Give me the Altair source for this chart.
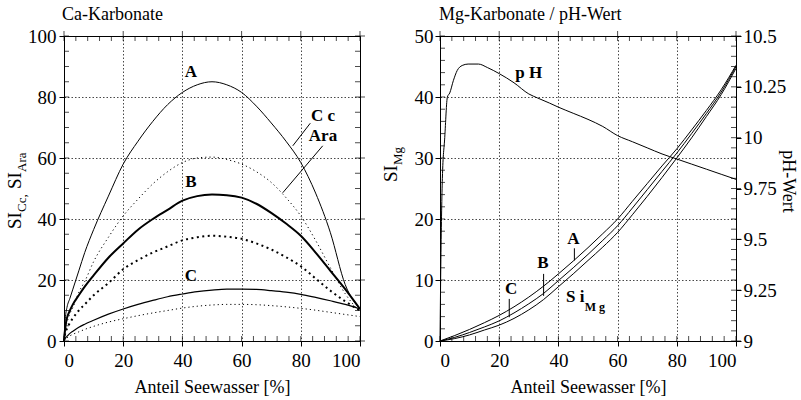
import altair as alt
import pandas as pd

FONT = "Liberation Serif"
W, H = 296, 305

# --- Ca-Karbonate: Saettigungsindizes Calcit (Cc) und Aragonit (Ara), Mischreihen A, B, C
ca_x = [0, 0.5, 1, 2, 3, 5, 7, 10, 15, 20, 25, 30, 35, 40, 45, 50, 55, 60, 65, 70, 75, 80, 85, 90, 95, 100]
a_cc = [0, 8, 11, 14, 17, 23, 29, 36.5, 47.5, 58, 65.5, 72, 77.5, 81.5, 84, 85, 84, 81.5, 77, 71.5, 65.5, 58.5, 48.5, 35.5, 18.5, 10.5]
a_ara = [0, 4, 6, 9, 11, 16, 19.5, 26, 34, 41, 46.5, 51.5, 55.5, 58.5, 60, 60.3, 59.5, 58, 55.5, 52, 47, 41, 33, 24, 15.5, 9.5]
b_cc = [0, 5, 7.5, 10, 12, 15, 17.8, 21.5, 27.3, 32, 36.5, 40, 43, 46, 47.5, 48, 47.8, 47, 45, 42, 38.5, 34.5, 29, 23, 17, 10.5]
b_ara = [0, 3, 4, 6, 7.5, 10, 12, 15, 19, 23.5, 26.5, 29, 31, 33, 34, 34.5, 34.2, 33.5, 32, 30, 27.5, 24.5, 20.5, 16.5, 13, 10]
c_cc = [0, 1, 1.5, 2.5, 3.2, 4.5, 5.5, 6.8, 8.8, 10.5, 12, 13.3, 14.5, 15.4, 16.2, 16.7, 17, 17, 16.9, 16.5, 16, 15.3, 14.3, 13.2, 12, 10.5]
c_ara = [0, 0.6, 1, 1.7, 2.2, 3, 3.8, 4.8, 6.2, 7.3, 8.3, 9.2, 10, 10.8, 11.4, 11.8, 12, 12, 11.9, 11.6, 11.2, 10.7, 10.1, 9.4, 8.7, 8]

ca_labels = ["A", "B", "C", "C c", "Ara"]
ca_label_x = [42.9, 42.9, 42.9, 87.5, 87.5]
ca_label_y = [88.2, 52, 21.3, 73.8, 67.2]
# Hinweislinien von "Cc" und "Ara" zur Kurve A
ca_ptr_x = [83.2, 87.4]
ca_ptr_y = [71.4, 64]
ca_ptr_x2 = [77.3, 73.9]
ca_ptr_y2 = [64, 48.6]

# --- Mg-Karbonate und pH-Wert
mg_x = [0, 5, 10, 15, 20, 25, 30, 35, 40, 45, 50, 55, 60, 65, 70, 75, 80, 85, 90, 95, 100]
mg_a = [0, 0.9, 1.9, 3, 4.2, 5.6, 7.2, 9, 11, 13.1, 15.3, 17.6, 20, 22.9, 25.8, 28.7, 31.5, 34.6, 37.8, 41.2, 45.2]
mg_b = [0, 0.6, 1.4, 2.3, 3.3, 4.6, 6.1, 7.8, 9.9, 12, 14.2, 16.5, 18.9, 21.8, 24.8, 27.8, 30.8, 34, 37.3, 40.8, 45]
mg_c = [0, 0.4, 1, 1.8, 2.6, 3.7, 5.1, 6.8, 8.9, 11, 13.2, 15.4, 17.8, 20.7, 23.7, 26.8, 30, 33.3, 36.8, 40.4, 44.7]

ph_x = [0, 0.3, 0.8, 1.6, 2.5, 3.3, 4.5, 5.8, 7.5, 9.5, 13, 16, 20, 25, 30, 33, 37, 40, 45, 50,
        55, 60, 65, 70, 75, 80, 85, 90, 95, 100]
ph_v = [9.0, 9.4, 9.8, 10.0, 10.2, 10.22, 10.28, 10.33, 10.355, 10.362, 10.362, 10.345, 10.315, 10.27,
        10.215, 10.195, 10.17, 10.15, 10.12, 10.09, 10.055, 10.01, 9.98, 9.95, 9.92, 9.895, 9.87,
        9.845, 9.82, 9.795]

mg_labels = ["A", "B", "C", "p H"]
mg_label_x = [45.1, 34.8, 24.0, 30.0]
mg_label_y = [16.7, 12.8, 8.5, 43.9]
mg_ptr_x = [45.4, 35.0, 23.4]
mg_ptr_y = [15.2, 11.0, 6.9]
mg_ptr_y2 = [13.2, 7.4, 3.9]

x_major = [0, 20, 40, 60, 80, 100]
ca_y_major = [0, 20, 40, 60, 80, 100]
mg_y_major = [0, 10, 20, 30, 40, 50]
ph_major = [9, 9.25, 9.5, 9.75, 10, 10.25, 10.5]
x_minor = [v for v in range(4, 100, 4) if v % 20]
ca_y_minor = [v for v in range(5, 100, 5) if v % 20]
mg_y_minor = [v for v in range(2, 50, 2) if v % 10]
ph_minor = [round(9 + 0.05 * i, 2) for i in range(1, 30) if i % 5]

GRID = dict(grid=True, gridColor="black", gridDash=[1.5, 2], gridWidth=0.8, gridOpacity=0.9)
AX = dict(labelFont=FONT, titleFont=FONT, labelFontSize=19, titleFontSize=18,
          titleFontWeight="normal", labelColor="black", titleColor="black",
          tickColor="black", domainColor="black")


def x_enc(field="x"):
    return alt.X(f"{field}:Q", scale=alt.Scale(domain=[0, 100], nice=False, zero=False),
                 axis=alt.Axis(values=x_major, title="Anteil Seewasser [%]", tickSize=5,
                               labelPadding=5, titlePadding=8, **GRID, **AX))


def ca_y(field="y"):
    return alt.Y(f"{field}:Q", scale=alt.Scale(domain=[0, 100], nice=False, zero=False),
                 axis=alt.Axis(values=ca_y_major, title=None, tickSize=5, labelPadding=3,
                               **GRID, **AX))


def mg_y(field="y"):
    return alt.Y(f"{field}:Q", scale=alt.Scale(domain=[0, 50], nice=False, zero=False),
                 axis=alt.Axis(values=mg_y_major, title=None, tickSize=5, labelPadding=2,
                               **GRID, **AX))


def ph_y(field="p"):
    return alt.Y(f"{field}:Q", scale=alt.Scale(domain=[9, 10.5], nice=False, zero=False),
                 axis=alt.Axis(values=ph_major, orient="right", labelExpr="toString(datum.value)",
                               grid=False, tickSize=5, labelPadding=2, title="pH-Wert",
                               titleAngle=90, titleX=46, titleY=145, titleAlign="center",
                               titleBaseline="alphabetic", **AX))


def curve(xs, ys, yenc, width=1.0, dash=None, interp="monotone"):
    kw = dict(color="black", strokeWidth=width, interpolate=interp)
    if dash:
        kw["strokeDash"] = dash
    df = pd.DataFrame({"x": xs, "y": ys})
    return alt.Chart(df).mark_line(**kw).encode(x=x_enc(), y=yenc())


def xticks(values, ypix, size, yoff):
    df = pd.DataFrame({"x": values})
    return alt.Chart(df).mark_tick(orient="vertical", size=size, thickness=1, color="black",
                                   yOffset=yoff).encode(x=x_enc(), y=alt.value(ypix))


def yticks(values, yenc, field, xpix, size, xoff):
    df = pd.DataFrame({field: values})
    return alt.Chart(df).mark_tick(orient="horizontal", size=size, thickness=1, color="black",
                                   xOffset=xoff).encode(y=yenc(field), x=alt.value(xpix))


def frame_ticks(y_enc_fn, y_major, y_minor, right=True):
    layers = [
        xticks(x_major, H, 5, -2.5), xticks(x_minor, H, 5, -2.5),
        xticks(x_major, 0, 10, 0), xticks(x_minor, 0, 5, 2.5),
        yticks(y_major, y_enc_fn, "y", 0, 5, 2.5), yticks(y_minor, y_enc_fn, "y", 0, 5, 2.5),
    ]
    if right:
        layers += [yticks(y_major, y_enc_fn, "y", W, 10, 0), yticks(y_minor, y_enc_fn, "y", W, 5, -2.5)]
    return layers


def rot_text(text, size, xpix, ypix, angle=270):
    df = pd.DataFrame({"t": [text]})
    return alt.Chart(df).mark_text(angle=angle, align="left", baseline="alphabetic", font=FONT,
                                   fontSize=size, color="black").encode(
        text="t:N", x=alt.value(xpix), y=alt.value(ypix))


def labels(names, xs, ys, yenc, size=18):
    df = pd.DataFrame({"t": names, "x": xs, "y": ys})
    return alt.Chart(df).mark_text(font=FONT, fontSize=size, fontWeight="bold", color="black",
                                   align="center", baseline="middle").encode(
        text="t:N", x=x_enc(), y=yenc())


# ---------------- linkes Feld: Ca-Karbonate
ca_ptr = pd.DataFrame({"x": ca_ptr_x, "y": ca_ptr_y, "x2": ca_ptr_x2, "y2": ca_ptr_y2})
left = alt.layer(
    curve(ca_x, a_cc, ca_y, 1.0),
    curve(ca_x, a_ara, ca_y, 1.0, [1.2, 3]),
    curve(ca_x, b_cc, ca_y, 2.0),
    curve(ca_x, b_ara, ca_y, 2.0, [2, 3.5]),
    curve(ca_x, c_cc, ca_y, 1.2),
    curve(ca_x, c_ara, ca_y, 1.0, [1.2, 3]),
    *frame_ticks(ca_y, ca_y_major, ca_y_minor),
    labels(ca_labels, ca_label_x, ca_label_y, ca_y, 17),
    alt.Chart(ca_ptr).mark_rule(color="black", strokeWidth=1).encode(
        x=x_enc(), y=ca_y(), x2="x2:Q", y2="y2:Q"),
    rot_text("SI", 19, -43, 193),
    rot_text("Cc,", 13, -38, 176),
    rot_text("SI", 19, -43, 153),
    rot_text("Ara", 13, -38, 136),
).properties(
    width=W, height=H,
    title=alt.TitleParams("Ca-Karbonate", anchor="start", frame="group", font=FONT, fontSize=18,
                          fontWeight="normal", offset=3, dx=-2),
)

# ---------------- rechtes Feld: Mg-Karbonate / pH-Wert
mg_ptr = pd.DataFrame({"x": mg_ptr_x, "y": mg_ptr_y, "y2": mg_ptr_y2})
mg_part = alt.layer(
    curve(mg_x, mg_a, mg_y, 1.0),
    curve(mg_x, mg_b, mg_y, 1.0),
    curve(mg_x, mg_c, mg_y, 1.0),
    *frame_ticks(mg_y, mg_y_major, mg_y_minor, right=False),
    labels(mg_labels, mg_label_x, mg_label_y, mg_y, 17),
    alt.Chart(pd.DataFrame({"t": ["S i"], "x": [45.7], "y": [7.2]})).mark_text(
        font=FONT, fontSize=17, fontWeight="bold", align="center", baseline="middle").encode(
        text="t:N", x=x_enc(), y=mg_y()),
    alt.Chart(pd.DataFrame({"t": ["M g"], "x": [52.3], "y": [5.5]})).mark_text(
        font=FONT, fontSize=12, fontWeight="bold", align="center", baseline="middle").encode(
        text="t:N", x=x_enc(), y=mg_y()),
    alt.Chart(mg_ptr).mark_rule(color="black", strokeWidth=1).encode(
        x=x_enc(), y=mg_y(), y2="y2:Q"),
    rot_text("SI", 19, -43, 146),
    rot_text("Mg", 13, -38, 129),
)

ph_df = pd.DataFrame({"x": ph_x, "p": ph_v})
ph_part = alt.layer(
    alt.Chart(ph_df).mark_line(color="black", strokeWidth=1, interpolate="monotone").encode(
        x=x_enc(), y=ph_y()),
    alt.Chart(pd.DataFrame({"p": ph_major})).mark_tick(
        orient="horizontal", size=10, thickness=1, color="black").encode(
        y=ph_y(), x=alt.value(W)),
    alt.Chart(pd.DataFrame({"p": ph_minor})).mark_tick(
        orient="horizontal", size=5, thickness=1, color="black", xOffset=-2.5).encode(
        y=ph_y(), x=alt.value(W)),
)

right = alt.layer(mg_part, ph_part).resolve_scale(y="independent").properties(
    width=W, height=H,
    title=alt.TitleParams("Mg-Karbonate / pH-Wert", anchor="start", frame="group", font=FONT,
                          fontSize=18, fontWeight="normal", offset=3, dx=-1),
)

chart = alt.hconcat(left, right, spacing=15).properties(
    padding={"left": 5, "top": 5, "right": 2, "bottom": 2},
    background="white",
).configure_view(stroke="black", strokeWidth=1)

chart.save("out.html", embed_options={"renderer": "svg", "actions": False})
